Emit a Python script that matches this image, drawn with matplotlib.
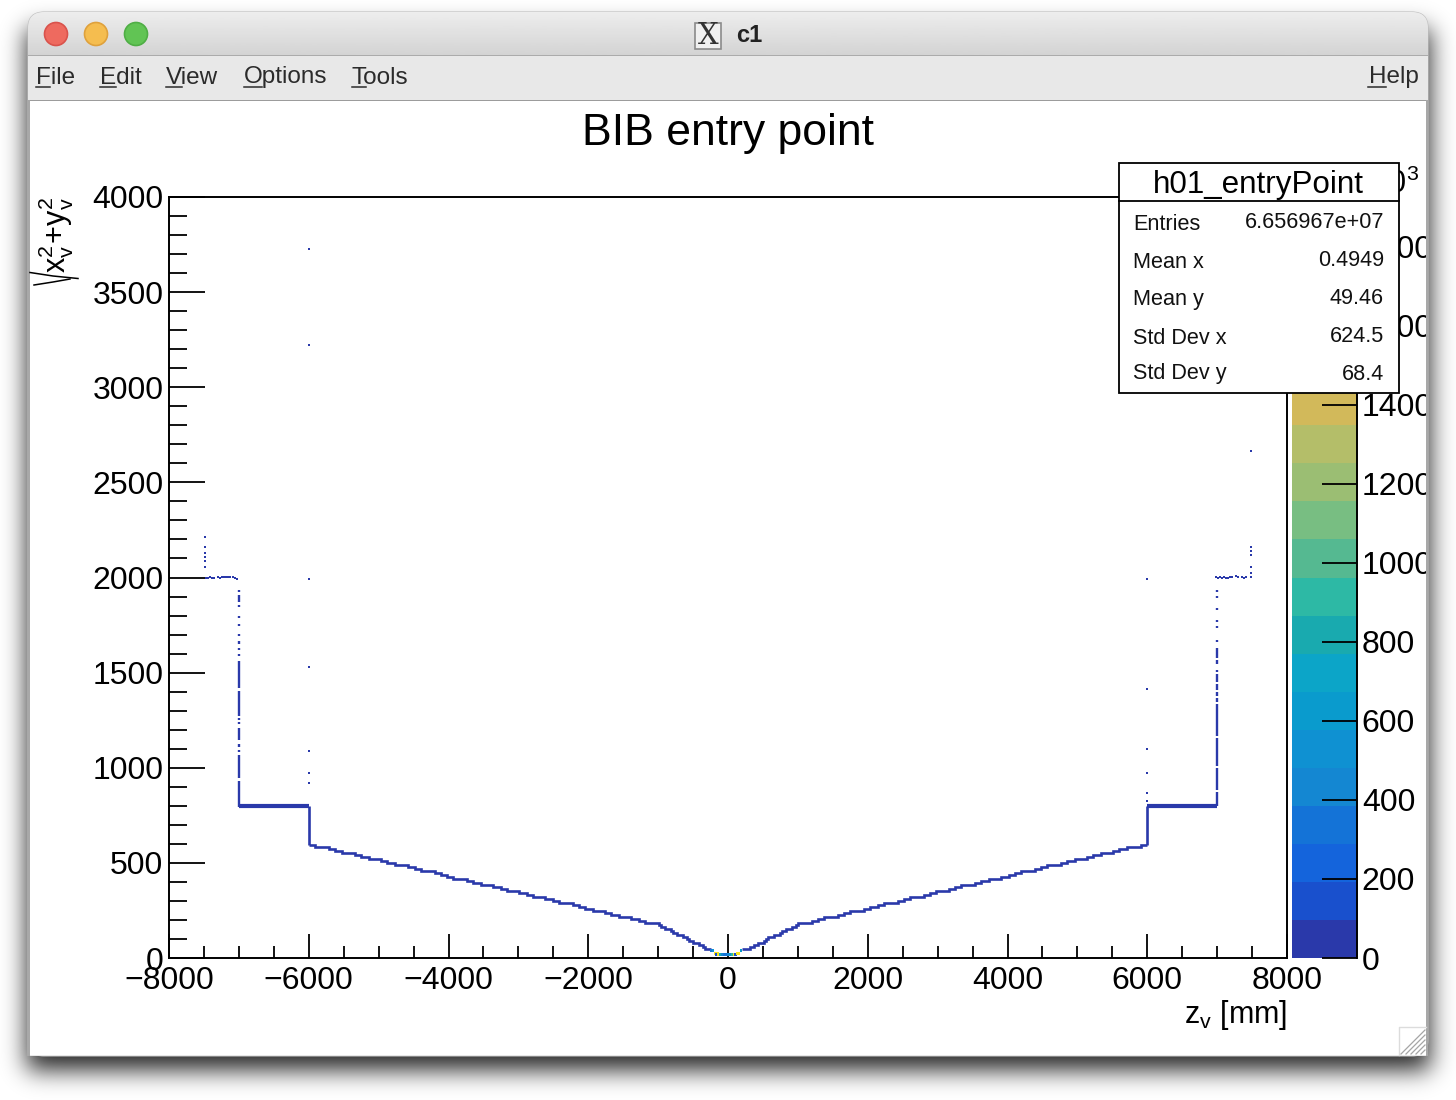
import numpy as np
import matplotlib
matplotlib.use("Agg")
from matplotlib import pyplot as plt
from matplotlib.colors import ListedColormap, BoundaryNorm
from matplotlib.patches import Rectangle, Circle, FancyBboxPatch
from matplotlib.transforms import Bbox

plt.rcParams['font.family'] = ['Liberation Sans', 'DejaVu Sans']
plt.rcParams['mathtext.fontset'] = 'custom'
plt.rcParams['mathtext.rm'] = 'Liberation Sans'
plt.rcParams['mathtext.it'] = 'Liberation Sans'
plt.rcParams['mathtext.bf'] = 'Liberation Sans:bold'

# stepped profile
left_edges = [-6000, -5910, -5710, -5624, -5524, -5338, -5252, -5137, -4966, -4880,
              -4765, -4579, -4479, -4393, -4193, -4107, -4021, -3935, -3735, -3649,
              -3535, -3363, -3248, -3163, -2991, -2876, -2790, -2619, -2504, -2418,
              -2218, -2132, -2046, -1932, -1760, -1674, -1560, -1388, -1274, -1188,
              -987, -959, -902, -816, -787, -730, -644, -587, -558, -501,
              -415, -358, -329, -243]
left_r = [594, 583, 573, 562, 552, 541, 531, 520, 510, 499,
          489, 478, 468, 457, 447, 436, 426, 415, 405, 394,
          384, 373, 363, 352, 342, 331, 321, 310, 300, 289,
          279, 268, 258, 247, 237, 226, 216, 205, 195, 184,
          174, 163, 152, 142, 131, 121, 110, 100, 89, 79,
          68, 58, 47]
right_edges = [200, 315, 372, 429, 515, 544, 572, 658, 744, 773,
               830, 916, 973, 1002, 1202, 1288, 1374, 1574, 1660, 1746,
               1946, 2032, 2147, 2232, 2433, 2519, 2604, 2805, 2891, 2976,
               3162, 3248, 3334, 3534, 3620, 3735, 3907, 4021, 4107, 4193,
               4393, 4479, 4565, 4765, 4851, 4966, 5137, 5223, 5338, 5509,
               5595, 5710, 5910, 6000]
right_r = left_r[::-1]

# busy cells near z = 0
center_z = [-243, -215, -186, -157, -172, -143, -114, -86, -57, -29, 0,
            29, 57, 86, 114, 129, 157, 186]
center_r = [37, 37, 26, 26, 16, 16, 16, 16, 16, 16, 16,
            16, 16, 16, 16, 26, 26, 37]
center_counts = [300, 500, 1800, 1800, 100, 1800, 800, 400, 350, 350, 400,
                 500, 900, 1800, 100, 1800, 1800, 600]

# walls at z = +-7000, broken into runs
wall_left_lo = [1926, 1873, 1845, 1789, 1745, 1693, 1649, 1619, 1588, 1421,
                1272, 1251, 1229, 1146, 1107, 1085, 948, 795]
wall_left_hi = [1936, 1908, 1855, 1799, 1755, 1703, 1666, 1629, 1598, 1563,
                1403, 1261, 1239, 1208, 1125, 1095, 1067, 932]
wall_right_lo = [1924, 1892, 1829, 1766, 1735, 1661, 1577, 1545, 1503, 1451,
                 1408, 1377, 1345, 1167, 1009, 883, 799]
wall_right_hi = [1934, 1902, 1839, 1776, 1745, 1671, 1629, 1566, 1513, 1493,
                 1440, 1398, 1366, 1335, 1156, 999, 872]

# shelves near r = 2000
shelf_left_z = [-7470, -7440, -7410, -7380, -7350, -7300, -7270, -7240, -7210,
                -7180, -7150, -7120, -7090, -7060, -7030]
shelf_left_r = [1997, 1997, 2005, 1997, 1997, 2005, 1997, 2005, 2005,
                2005, 2005, 2005, 2005, 1997, 1992]
shelf_right_z = [6983, 7012, 7041, 7069, 7098, 7127, 7155, 7184, 7212, 7270,
                 7298, 7355, 7384, 7412]
shelf_right_r = [2003, 1997, 2003, 1997, 2003, 1997, 1997, 2003, 2003, 2008,
                 2003, 2003, 1997, 2003]

# isolated points
spot_z = [-7478, -7478, -7478, -7478, -7478, -7478,
          -6000, -6000, -6000, -6000, -6000, -6000, -6000,
          6000, 6000, 6000, 6000, 6000, 6000,
          7484, 7484, 7484, 7484, 7484, 7484, 7484]
spot_r = [2213, 2160, 2129, 2108, 2087, 2055,
          3727, 3222, 1992, 1530, 1088, 972, 920,
          1992, 1414, 1098, 972, 867, 825,
          2665, 2160, 2139, 2118, 2055, 2024, 2003]

# colour bar
band_colors = ['#2a39aa', '#1950cd', '#1464dc', '#1473d7', '#1487d2',
               '#0f91d2', '#0a9bcd', '#0ca5c8', '#19aaaf', '#2db9a5',
               '#55b991', '#78be82', '#9bbe73', '#b4be69', '#d2b95a',
               '#e6be46', '#f5c837', '#fad72d', '#fae61e', '#f9fb0e']
z_max = 1926
z_ticks = [0, 200, 400, 600, 800, 1000, 1200, 1400, 1600, 1800]

# stats box
stat_names = ['Entries', 'Mean x', 'Mean y', 'Std Dev x', 'Std Dev y']
stat_values = ['6.656967e+07', '0.4949', '49.46', '624.5', '68.4']

menu_items = ['File', 'Edit', 'View', 'Options', 'Tools']

W, H = 1456, 1100
LINE = '#2a39aa'


def axes_px(x0, y0, x1, y1, **kw):
    # axes rectangle given in image pixels (y down)
    return fig.add_axes([x0 / W, 1 - y1 / H, (x1 - x0) / W, (y1 - y0) / H], **kw)


fig = plt.figure(figsize=(W / 100, H / 100), dpi=100, facecolor='white')

# window behind the plot
bg = fig.add_axes([0, 0, 1, 1], zorder=0)
bg.axis('off')

kernel = np.exp(-0.5 * (np.arange(-40, 41) / 12.0) ** 2)
kernel /= kernel.sum()
shadow_x = np.convolve(((np.arange(W) > 26) & (np.arange(W) < 1430)).astype(float), kernel, mode='same')
shadow_y = np.convolve(((np.arange(H) > 28) & (np.arange(H) < 1070)).astype(float), kernel, mode='same')
shadow = np.zeros((H, W, 4))
shadow[..., 3] = np.outer(shadow_y, shadow_x) * 0.85
bg.imshow(shadow, extent=(0, W, H, 0), aspect='auto', zorder=0)

frame = FancyBboxPatch((28, 12), 1400, 1044, boxstyle='round,pad=0,rounding_size=16',
                       fc='#e8e8e8', ec='#bdbdbd', lw=0.8, zorder=1)
bg.add_patch(frame)
bg.add_patch(Rectangle((28, 40), 1400, 1016, fc='#e8e8e8', ec='none', zorder=1))
grad = bg.imshow(np.linspace(0.93, 0.83, 64).reshape(-1, 1), cmap='gray', vmin=0, vmax=1,
                 extent=(28, 1428, 55, 12), aspect='auto', zorder=1.5)
grad.set_clip_path(frame)
bg.set_xlim(0, W)
bg.set_ylim(H, 0)
bg.add_patch(Rectangle((28, 54.5), 1400, 1.5, fc='#ababab', ec='none', zorder=2))
bg.add_patch(Rectangle((28, 99.5), 1400, 1.5, fc='#9c9c9c', ec='none', zorder=2))
bg.add_patch(Rectangle((27, 100), 3, 956, fc='#a8a8a8', ec='none', zorder=2))
bg.add_patch(Rectangle((1426, 100), 2, 956, fc='#a8a8a8', ec='none', zorder=2))
bg.add_patch(Rectangle((30, 101), 1396, 954, fc='white', ec='none', zorder=2))

for cx, face, edge in [(56, '#ee6a5f', '#d9534c'), (96, '#f5bd4f', '#dfa13c'), (136, '#61c454', '#4fae45')]:
    bg.add_patch(Circle((cx, 34), 11.5, fc=face, ec=edge, lw=1.2, zorder=3))

# X icon and window name
bg.add_patch(Rectangle((695, 23), 26, 26, fc='#f0f0f0', ec='#8a8a8a', lw=1.2, zorder=3))
bg.text(708, 36.5, 'X', fontsize=21, family='DejaVu Serif', color='#333333', ha='center', va='center', zorder=4)
bg.text(749, 36, 'c1', fontsize=17, fontweight='bold', color='#222222', ha='center', va='center', zorder=4)

# menu
for name, x0, u1 in zip(menu_items, [36, 100, 166, 244, 352], [50, 116, 182, 262, 366]):
    bg.text(x0, 77.5, name, fontsize=17.5, color='#2b2b2b', ha='left', va='center', zorder=4)
    bg.plot([x0, u1], [87, 87], color='#2b2b2b', lw=1.1, zorder=4)
bg.text(1419, 77.5, 'Help', fontsize=17.5, color='#2b2b2b', ha='right', va='center', zorder=4)
bg.plot([1368, 1386], [87, 87], color='#2b2b2b', lw=1.1, zorder=4)

# resize grip
bg.plot([1399, 1399, 1426], [1055, 1027, 1027], color='#dcdcdc', lw=1.0, zorder=4)
for off in [4, 9, 14, 19, 24]:
    bg.plot([1425 - off, 1425], [1054, 1054 - off], color='#a5a5a5', lw=0.9, zorder=4)

# main plot
ax = axes_px(169, 197, 1287, 958, zorder=1)
ax.patch.set_alpha(0)
ax.set_xlim(-8000, 8000)
ax.set_ylim(0, 4000)

cmap = ListedColormap(band_colors)
levels = np.linspace(0, z_max, len(band_colors) + 1)
norm = BoundaryNorm(levels, cmap.N)

ax.stairs(left_r, left_edges, baseline=None, color=LINE, lw=1.9)
ax.stairs(right_r, right_edges, baseline=None, color=LINE, lw=1.9)
ax.vlines([-6000, 6000], 594, 800, color=LINE, lw=1.9)
ax.hlines(800, -7000, -6000, color=LINE, lw=3.0)
ax.hlines(800, 6000, 7000, color=LINE, lw=3.0)
ax.vlines([-7000] * len(wall_left_lo), wall_left_lo, wall_left_hi, color=LINE, lw=1.7)
ax.vlines([7000] * len(wall_right_lo), wall_right_lo, wall_right_hi, color=LINE, lw=1.7)
ax.scatter(shelf_left_z, shelf_left_r, marker='s', s=4.5, color=LINE, linewidths=0)
ax.scatter(shelf_right_z, shelf_right_r, marker='s', s=4.5, color=LINE, linewidths=0)
ax.scatter(spot_z, spot_r, marker='s', s=3.2, color=LINE, linewidths=0)
ax.scatter(center_z, center_r, c=center_counts, cmap=cmap, norm=norm, marker='s', s=4.5, linewidths=0, zorder=3)

ax.set_xticks(np.arange(-8000, 8001, 2000))
ax.set_xticks(np.arange(-8000, 8001, 500), minor=True)
ax.set_yticks(np.arange(0, 4001, 500))
ax.set_yticks(np.arange(0, 4001, 100), minor=True)
ax.tick_params(axis='x', which='major', direction='in', length=17, width=1.3, labelsize=23, pad=6)
ax.tick_params(axis='x', which='minor', direction='in', length=8.6, width=1.3)
ax.tick_params(axis='y', which='major', direction='in', length=26, width=1.3, labelsize=23, pad=4)
ax.tick_params(axis='y', which='minor', direction='in', length=13, width=1.3)
for spine in ax.spines.values():
    spine.set_linewidth(1.4)

# colour bar
cax = axes_px(1292, 197, 1357, 958, zorder=1)
cax.pcolormesh([0, 1], levels, np.array(levels[:-1]).reshape(-1, 1) + 1, cmap=cmap, norm=norm)
cax.set_xlim(0, 1)
cax.set_ylim(0, z_max)
cax.set_xticks([])
cax.set_yticks(z_ticks)
cax.tick_params(axis='y', left=False, labelleft=False, right=True, labelright=True,
                direction='in', length=25, width=1.3, labelsize=23, pad=3.5)
for side in ['left', 'top', 'bottom']:
    cax.spines[side].set_visible(False)
cax.spines['right'].set_linewidth(1.4)
for label in cax.get_yticklabels():
    label.set_clip_on(True)
    label.set_clip_box(Bbox([[0, 0], [1426, H]]))

# texts and stats box on top
top = fig.add_axes([0, 0, 1, 1], zorder=5)
top.set_xlim(0, W)
top.set_ylim(H, 0)
top.axis('off')

top.text(728, 133, 'BIB entry point', fontsize=32, color='black', ha='center', va='center')
top.text(1287, 1023, r'$\mathrm{z_v}$ [mm]', fontsize=22, color='black', ha='right', va='baseline')
top.text(56, 197, r'$\mathrm{x_v^2\!+\!y_v^2}$', fontsize=22, rotation=90, color='black', ha='center', va='top')
top.plot([30, 53, 78], [272.5, 276, 278.5], color='black', lw=1.1)
top.plot([34, 53, 70], [285, 282, 279], color='black', lw=1.1)
top.text(1419, 193, r'$\times$10$^{3}$', fontsize=22, color='black', ha='right', va='baseline', zorder=2)

top.add_patch(Rectangle((1119, 163), 280, 230, fc='white', ec='black', lw=1.3, zorder=5))
top.plot([1119, 1399], [201, 201], color='black', lw=1.3, zorder=6)
top.text(1258, 184.5, 'h01_entryPoint', fontsize=22.6, color='black', ha='center', va='center', zorder=6)
for name, value, y_name, y_value in zip(stat_names, stat_values,
                                        [224, 262, 299, 338, 374], [222, 260, 298, 337, 374]):
    top.text(1133, y_name, name, fontsize=15.6, color='#111111', ha='left', va='center', zorder=6)
    top.text(1384, y_value, value, fontsize=15.6, color='#111111', ha='right', va='center', zorder=6)

fig.savefig('out.png', dpi=100)
